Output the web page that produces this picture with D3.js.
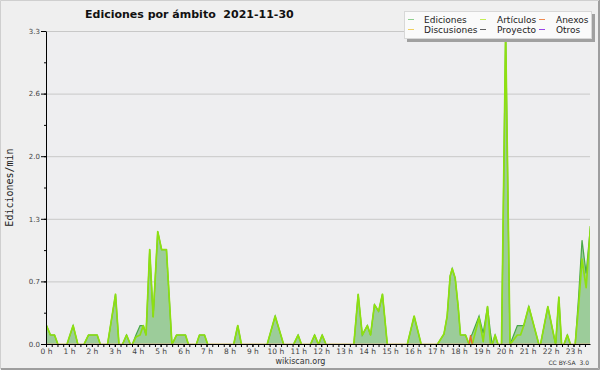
<!DOCTYPE html>
<html><head><meta charset="utf-8">
<script src="https://cdn.jsdelivr.net/npm/d3@7"></script>
<style>html,body{margin:0;padding:0;background:#efefef;}svg{display:block;}</style>
</head><body><svg id="c" width="600" height="370"></svg>
<script>
// ---- data (hours of day, edits per minute) ----
const hours = [0.00,0.17,0.35,0.50,0.89,1.16,1.37,1.63,1.83,2.21,2.35,2.66,3.01,3.16,3.31,3.49,3.66,3.74,3.90,4.08,4.22,4.34,4.50,4.65,4.85,5.02,5.23,5.47,5.67,6.06,6.19,6.53,6.67,6.89,7.03,8.16,8.34,8.50,9.62,9.97,10.34,10.77,10.97,11.12,11.51,11.69,11.86,12.02,12.19,13.40,13.59,13.77,13.99,14.13,14.30,14.48,14.65,14.86,15.73,16.03,16.34,17.04,17.33,17.47,17.60,17.69,17.82,17.95,18.05,18.27,18.43,18.49,18.56,18.86,19.04,19.23,19.36,19.44,19.56,19.69,19.84,20.02,20.21,20.53,20.67,20.81,21.03,21.47,21.54,21.86,22.20,22.34,22.46,22.56,22.71,22.85,23.05,23.20,23.35,23.53,23.72];
const ediciones = [0.2,0.1,0.1,0,0,0.2,0,0,0.1,0.1,0,0,0.53,0,0,0.1,0,0,0.1,0.2,0.2,0.1,1.0,0.29,1.19,1.0,1.0,0,0.1,0.1,0,0,0.1,0.1,0,0,0.2,0,0,0.3,0,0,0.1,0,0,0.1,0,0.1,0,0,0.53,0.1,0.2,0.1,0.42,0.35,0.53,0,0,0.3,0,0,0.11,0.3,0.72,0.8,0.7,0.4,0.1,0.1,0,0.08,0.11,0.3,0.12,0.4,0.12,0,0.1,0,0,3.3,0,0.2,0.2,0.2,0.4,0,0,0.4,0,0.5,0,0,0.1,0,0,0.5,1.1,0.75,1.25];
const articulos = [0.2,0.1,0.1,0,0,0.2,0,0,0.1,0.1,0,0,0.53,0,0,0.1,0,0,0.08,0.1,0.2,0.1,1.0,0.29,1.19,1.0,1.0,0,0.1,0.1,0,0,0.1,0.1,0,0,0.2,0,0,0.3,0,0,0.1,0,0,0.1,0,0.1,0,0,0.53,0.1,0.2,0.1,0.42,0.35,0.53,0,0,0.3,0,0,0.11,0.3,0.72,0.8,0.7,0.4,0.1,0.1,0,0,0,0.28,0.03,0.4,0,0,0.1,0,0,3.3,0,0.1,0.1,0.2,0.4,0,0,0.4,0,0.5,0,0,0.1,0,0,0.4,0.9,0.6,1.25];
const anexosHours = [0,18.43,18.49,18.56,23.72];
const anexos = [0,0,0.1,0,0];
const zeroHours = [0,23.72];
const discusiones = [0,0];
const proyecto = [0,0];
const otros = [0,0];

const yTickValues = [0,0.66,1.32,1.98,2.64,3.3];
const yTickLabels = ["0.0","0.7","1.3","2.0","2.6","3.3"];
const hourLabels = ["0 h","1 h","2 h","3 h","4 h","5 h","6 h","7 h","8 h","9 h","10 h","11 h","12 h","13 h","14 h","15 h","16 h","17 h","18 h","19 h","20 h","21 h","22 h","23 h"];
const legendNames = ["Ediciones","Artículos","Anexos","Discusiones","Proyecto","Otros"];
const legendColors = ["#8fd08f","#c4ee55","#f08a50","#f0d060","#606060","#9a44e8"];

// ---- drawing ----
const svg = d3.select("#c");
const W = 600, H = 370;
const L = 46, R = 590, T = 31, B = 344;
const x = d3.scaleLinear().domain([0, 23.72]).range([L, R]);
const y = d3.scaleLinear().domain([0, 3.3]).range([B, T]);

svg.append("rect").attr("width", W).attr("height", H).attr("fill", "#efefef");
// 3D frame
svg.append("path").attr("d", "M0.5,369V0.5H599").attr("stroke", "#cfcfcf").attr("fill", "none");
svg.append("path").attr("d", "M1,368.5H598.5V1").attr("stroke", "#9e9e9e").attr("fill", "none");
svg.append("path").attr("d", "M1,369.5H599.5V0").attr("stroke", "#9e9e9e").attr("fill", "none");

svg.append("rect").attr("x", L).attr("y", T).attr("width", R - L).attr("height", B - T).attr("fill", "#eeeef0");

// grid
svg.append("g").attr("transform", `translate(${L},0)`)
  .call(d3.axisLeft(y).tickValues(yTickValues).tickSize(-(R - L)).tickFormat(""))
  .call(g => g.select(".domain").remove())
  .call(g => g.selectAll("line").attr("stroke", "#c8c8c8"));

// clip
svg.append("defs").append("clipPath").attr("id", "clip")
  .append("rect").attr("x", L).attr("y", 0).attr("width", R - L).attr("height", B - 0.2);

const data = hours.map((h, i) => ({h, e: ediciones[i], a: articulos[i]}));
const gData = svg.append("g").attr("clip-path", "url(#clip)")
  .append("g").attr("transform", "translate(0.5,0.5)");

gData.append("path").datum(data)
  .attr("d", d3.area().x(d => x(d.h)).y0(y(0)).y1(d => y(d.e)))
  .attr("fill", "#9ccc9a");
gData.append("path").datum(data)
  .attr("d", d3.line().x(d => x(d.h)).y(d => y(d.e)))
  .attr("fill", "none").attr("stroke", "#48a848").attr("stroke-width", 1.2);

const lineXY = d3.line().x(d => x(d[0])).y(d => y(d[1]));
[[zeroHours, discusiones, "#f0d060"], [zeroHours, proyecto, "#606060"], [zeroHours, otros, "#9a44e8"]]
  .forEach(([hs, vs, c]) => {
    gData.append("path").datum(hs.map((h, i) => [h, vs[i]]))
      .attr("d", lineXY).attr("fill", "none").attr("stroke", c).attr("stroke-width", 1);
  });
gData.append("path").datum(hours.map((h, i) => [h, articulos[i]]))
  .attr("d", lineXY).attr("fill", "none").attr("stroke", "#8ee010").attr("stroke-width", 1.7)
  .attr("stroke-linejoin", "round");
gData.append("path").datum(anexosHours.map((h, i) => [h, anexos[i]]))
  .attr("d", lineXY).attr("fill", "none").attr("stroke", "#f06a28").attr("stroke-width", 1.3);

// axes
const minorX = d3.range(0, 23.72, 0.25);
const xMinor = svg.append("g").attr("transform", `translate(0,${B})`)
  .call(d3.axisBottom(x).tickValues(minorX).tickSize(3).tickSizeOuter(0).tickFormat(""));
xMinor.selectAll("line").attr("stroke", "#000");
xMinor.select(".domain").attr("stroke", "#000");
const xMajor = svg.append("g").attr("transform", `translate(0,${B})`)
  .call(d3.axisBottom(x).tickValues(d3.range(0, 24)).tickSize(3).tickSizeOuter(0).tickPadding(2)
    .tickFormat((d, i) => hourLabels[i]));
xMajor.select(".domain").remove();
xMajor.selectAll("line").attr("stroke", "#000");
xMajor.selectAll("text").attr("font-family", "DejaVu Sans").attr("font-size", 7.5).attr("fill", "#444");

const yMinor = svg.append("g").attr("transform", `translate(${L},0)`)
  .call(d3.axisLeft(y).tickValues(d3.range(0, 3.31, 0.33)).tickSize(2).tickSizeOuter(0).tickFormat(""));
yMinor.selectAll("line").attr("stroke", "#000");
yMinor.select(".domain").attr("stroke", "#000");
const yMajor = svg.append("g").attr("transform", `translate(${L},0)`)
  .call(d3.axisLeft(y).tickValues(yTickValues).tickSize(5).tickSizeOuter(0).tickPadding(1)
    .tickFormat((d, i) => yTickLabels[i]));
yMajor.select(".domain").remove();
yMajor.selectAll("line").attr("stroke", "#000");
yMajor.selectAll("text").attr("font-family", "DejaVu Sans").attr("font-size", 7).attr("fill", "#444");

// title & labels
svg.append("text").attr("x", 85).attr("y", 18.3).attr("font-family", "DejaVu Sans").attr("font-weight", "bold")
  .attr("font-size", 11).attr("fill", "#111").style("white-space", "pre").text("Ediciones por ámbito  2021-11-30");
svg.append("text").attr("transform", "translate(12.5,187.5) rotate(-90)").attr("text-anchor", "middle")
  .attr("font-family", "DejaVu Sans Mono").attr("font-size", 10).attr("fill", "#222").text("Ediciones/min");
svg.append("text").attr("x", 300.5).attr("y", 364).attr("text-anchor", "middle").attr("font-family", "DejaVu Sans")
  .attr("font-size", 8).attr("fill", "#333").text("wikiscan.org");
svg.append("text").attr("x", 589).attr("y", 365).attr("text-anchor", "end").attr("font-family", "DejaVu Sans")
  .attr("font-size", 6).attr("fill", "#333").style("white-space", "pre").text("CC BY-SA  3.0");

// legend
const lg = svg.append("g");
lg.append("rect").attr("x", 407).attr("y", 14).attr("width", 188).attr("height", 28).attr("fill", "#a0a0a0");
lg.append("rect").attr("x", 404.5).attr("y", 11.5).attr("width", 187).attr("height", 27).attr("fill", "#fafafa")
  .attr("stroke", "#d8d8d8");
const colX = [408, 480, 539], colTX = [424, 497, 556], rowY = [19.5, 29.5];
legendNames.forEach((n, i) => {
  const c = i % 3, r = Math.floor(i / 3);
  lg.append("line").attr("x1", colX[c]).attr("x2", colX[c] + 6).attr("y1", rowY[r]).attr("y2", rowY[r])
    .attr("stroke", legendColors[i]).attr("stroke-width", 1);
  lg.append("text").attr("x", colTX[c]).attr("y", rowY[r] + 3).attr("font-family", "DejaVu Sans")
    .attr("font-size", 9).attr("fill", "#222").text(n);
});
</script></body></html>
